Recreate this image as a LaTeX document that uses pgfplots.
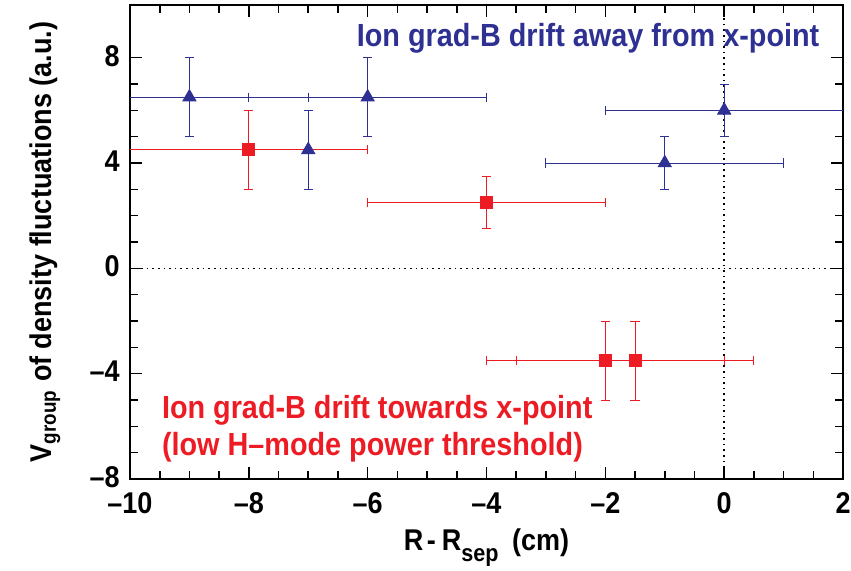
\documentclass[border=0pt]{standalone}
\usepackage{fontspec}
\setmainfont{Liberation Sans}[FakeStretch=0.9]
\usepackage{pgfplots}
\pgfplotsset{compat=1.18}
\definecolor{cblue}{RGB}{46,49,146}
\definecolor{cred}{RGB}{237,28,36}
\begin{document}
\begin{tikzpicture}
\useasboundingbox (-65pt,-45.5pt) rectangle (360.5pt,239.5pt);
\begin{axis}[
  at={(0,0)}, anchor=south west,
  scale only axis,
  width=356.5pt, height=237pt,
  xmin=-10, xmax=2, ymin=-8, ymax=10,
  xtick={-10,-8,-6,-4,-2,0,2},
  xticklabels={--10,--8,--6,--4,--2,0,2},
  ytick={-8,-4,0,4,8},
  yticklabels={--8,--4,0,4,8},
  minor x tick num=3,
  minor y tick num=3,
  tick align=inside,
  major tick length=6pt,
  minor tick length=4pt,
  tick style={black, line width=0.8pt},
  axis line style={line width=1pt},
  ticklabel style={font=\fontsize{15}{17}\selectfont\bfseries, inner sep=1pt},
  xticklabel style={yshift=-5.5pt},
  yticklabel style={xshift=-4pt, yshift=1pt},
  label style={font=\fontsize{15}{17}\selectfont\bfseries},
  xlabel={R\hspace{0.12em}-\hspace{0.2em}R\raisebox{-0.35em}{\fontsize{12}{12}\selectfont sep}\hspace{0.45em}(cm)},
  ylabel={V\textsubscript{group} of density fluctuations (a.u.)},
  xlabel style={at={(axis description cs:0.5,-0.145)}, anchor=center},
  ylabel style={at={(axis description cs:-0.1192,0.5)}, anchor=center},
  error bars/error bar style={line width=0.5pt},
  error bars/error mark options={rotate=90, mark size=2.3pt, line width=0.5pt},
]
\draw[dotted, line width=0.8pt] (axis cs:-10,0) -- (axis cs:2,0);
\draw[dotted, line width=0.8pt] (axis cs:0,-8) -- (axis cs:0,10);
% blue triangles
\addplot[only marks, mark=triangle*, mark size=3.8pt, color=cblue,
  error bars/.cd, x dir=both, x explicit, y dir=both, y explicit]
  coordinates {
  (-9,6.5) +- (2,1.5)
  (-6,6.5) +- (2,1.5)
  (-1,4) +- (2,1)
  (0,6) +- (2,1)
  };
\addplot[only marks, mark=triangle*, mark size=3.8pt, color=cblue,
  error bars/.cd, y dir=both, y explicit]
  coordinates {
  (-7,4.5) +- (0,1.5)
  };
% red squares
\addplot[only marks, mark=square*, mark size=3pt, color=cred,
  error bars/.cd, x dir=both, x explicit, y dir=both, y explicit]
  coordinates {
  (-8,4.5) +- (2,1.5)
  (-4,2.5) +- (2,1)
  (-2,-3.5) +- (2,1.5)
  (-1.5,-3.5) +- (2,1.5)
  };
\node[anchor=east, text=cblue, font=\fontsize{16}{18.5}\selectfont\bfseries] at (axis cs:1.72,8.73) {Ion grad-B drift away from x-point};
\node[anchor=west, text=cred, font=\fontsize{16}{18.5}\selectfont\bfseries, align=left] at (axis cs:-9.58,-6.09) {Ion grad-B drift towards x-point\\(low H--mode power threshold)};
\end{axis}
\end{tikzpicture}
\end{document}
